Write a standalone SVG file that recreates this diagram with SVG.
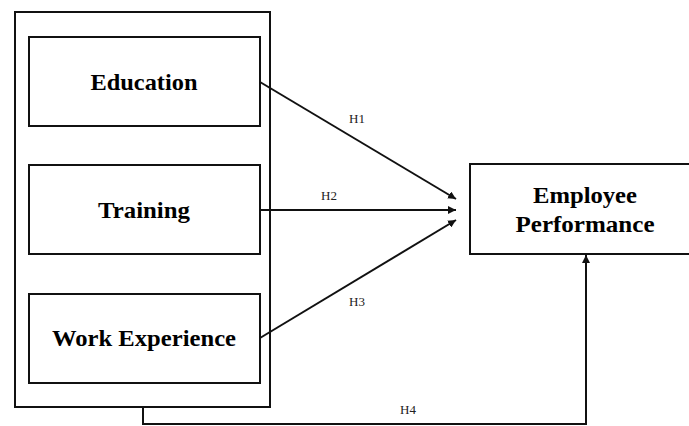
<svg xmlns="http://www.w3.org/2000/svg" width="689" height="426" viewBox="0 0 689 426">
<style>
.box{fill:#fff;stroke:#111;stroke-width:2}
.lbl{font-family:"Liberation Serif","Times New Roman",serif;font-weight:bold;font-size:23px;fill:#000;text-anchor:middle}
.h{font-family:"Liberation Serif","Times New Roman",serif;font-size:13px;fill:#222;text-anchor:middle}
.c{fill:none;stroke:#111;stroke-width:2}
</style>
<defs>
<marker id="ah" viewBox="0 0 10 10" refX="10" refY="5" markerWidth="4" markerHeight="4" orient="auto" markerUnits="strokeWidth">
<path d="M0,0 L10,5 L0,10 z" fill="#111"/>
</marker>
</defs>
<rect width="689" height="426" fill="#fff"/>
<g id="group">
<rect class="box" x="15" y="12" width="255" height="395"/>
</g>
<g id="education">
<rect class="box" x="29" y="37" width="231" height="89"/>
<text class="lbl" x="144" y="90" textLength="107" lengthAdjust="spacingAndGlyphs">Education</text>
</g>
<g id="training">
<rect class="box" x="29" y="165" width="231" height="89"/>
<text class="lbl" x="144" y="218" textLength="92" lengthAdjust="spacingAndGlyphs">Training</text>
</g>
<g id="work-experience">
<rect class="box" x="29" y="294" width="231" height="89"/>
<text class="lbl" x="144" y="346" textLength="184" lengthAdjust="spacingAndGlyphs">Work Experience</text>
</g>
<g id="employee-performance">
<rect class="box" x="470" y="164" width="220" height="90"/>
<text class="lbl" x="585" y="203" textLength="104" lengthAdjust="spacingAndGlyphs">Employee</text>
<text class="lbl" x="585" y="232" textLength="139" lengthAdjust="spacingAndGlyphs">Performance</text>
</g>
<g id="connectors">
<line class="c" x1="260" y1="82" x2="456" y2="199" marker-end="url(#ah)"/>
<line class="c" x1="260" y1="210" x2="456" y2="210" marker-end="url(#ah)"/>
<line class="c" x1="260" y1="338" x2="456" y2="220" marker-end="url(#ah)"/>
<polyline class="c" points="143,407 143,424 586,424 586,255" marker-end="url(#ah)"/>
<text class="h" x="357" y="123">H1</text>
<text class="h" x="329" y="200">H2</text>
<text class="h" x="357" y="306">H3</text>
<text class="h" x="408" y="414">H4</text>
</g>
</svg>
